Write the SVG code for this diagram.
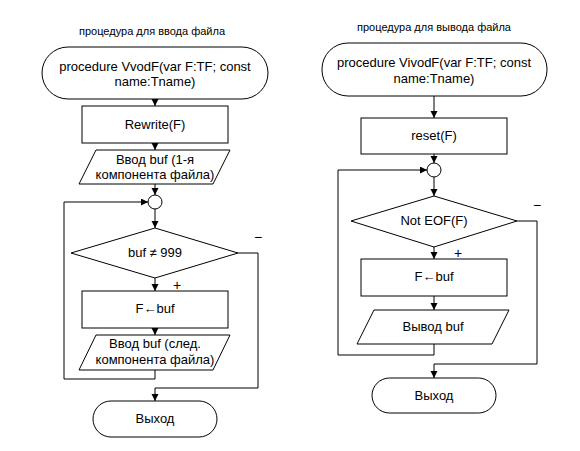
<svg xmlns="http://www.w3.org/2000/svg" width="580" height="451" viewBox="0 0 580 451">
<style>
.shape{fill:#fff;stroke:#000;stroke-width:1}
.t{font-family:"Liberation Sans",Arial,sans-serif;font-size:13px;fill:#000;text-anchor:middle}
.title{font-family:"Liberation Sans",Arial,sans-serif;font-size:11px;fill:#000;text-anchor:middle}
.c{fill:none;stroke:#000;stroke-width:1}
.sign{font-family:"Liberation Sans",Arial,sans-serif;font-size:14px;fill:#000;text-anchor:middle}
</style>
<defs>
<marker id="ah" markerUnits="userSpaceOnUse" markerWidth="8" markerHeight="8" refX="7" refY="3.5" orient="auto">
<path d="M0,0 L7,3.5 L0,7 z" fill="#000"/>
</marker>
</defs>
<rect width="580" height="451" fill="#fff"/>

<g id="connectors">
<path class="c" marker-end="url(#ah)" d="M155,99 V106"/>
<path class="c" marker-end="url(#ah)" d="M155,143 V150"/>
<path class="c" marker-end="url(#ah)" d="M155,184 V195"/>
<path class="c" marker-end="url(#ah)" d="M155,209 V228"/>
<path class="c" marker-end="url(#ah)" d="M155,278 V291"/>
<path class="c" marker-end="url(#ah)" d="M155,328 V335"/>
<path class="c" marker-end="url(#ah)" d="M155,370 V379 H64 V202 H148"/>
<path class="c" marker-end="url(#ah)" d="M238,253 H258 V388 H155 V401"/>

<path class="c" marker-end="url(#ah)" d="M434,96 V118"/>
<path class="c" marker-end="url(#ah)" d="M434,154 V163"/>
<path class="c" marker-end="url(#ah)" d="M434,177 V196"/>
<path class="c" marker-end="url(#ah)" d="M434,247 V259"/>
<path class="c" marker-end="url(#ah)" d="M434,296 V310"/>
<path class="c" marker-end="url(#ah)" d="M434,344 V355 H338 V170 H427"/>
<path class="c" marker-end="url(#ah)" d="M517,221 H537 V364 H434 V378"/>
<text class="sign" x="258" y="242">−</text>
<text class="sign" x="177" y="290">+</text>
<text class="sign" x="537" y="210">−</text>
<text class="sign" x="458" y="258">+</text>
</g>

<text class="title" x="152" y="35">процедура для ввода файла</text>
<text class="title" x="434" y="31">процедура для вывода файла</text>

<g id="l_start">
<rect class="shape" x="42" y="47" width="226" height="52" rx="26"/>
<text class="t" x="155" y="71">procedure VvodF(var F:TF; const</text>
<text class="t" x="155" y="86">name:Tname)</text>
</g>
<g id="l_rewrite">
<rect class="shape" x="82" y="106" width="146" height="37"/>
<text class="t" x="155" y="129">Rewrite(F)</text>
</g>
<g id="l_input1">
<polygon class="shape" points="96,150 230,150 213,184 79,184"/>
<text class="t" x="155" y="164">Ввод buf (1-я</text>
<text class="t" x="155" y="179">компонента файла)</text>
</g>
<g id="l_join">
<circle class="shape" cx="155" cy="202" r="7"/>
</g>
<g id="l_cond">
<polygon class="shape" points="155,228 238,253 155,278 71,253"/>
<text class="t" x="155" y="257">buf ≠ 999</text>
</g>
<g id="l_assign">
<rect class="shape" x="82" y="291" width="146" height="37"/>
<text class="t" x="155" y="313">F←buf</text>
</g>
<g id="l_input2">
<polygon class="shape" points="96,335 230,335 213,370 79,370"/>
<text class="t" x="155" y="348">Ввод buf (след.</text>
<text class="t" x="155" y="364">компонента файла)</text>
</g>
<g id="l_end">
<rect class="shape" x="93" y="401" width="124" height="36" rx="18"/>
<text class="t" x="155" y="423">Выход</text>
</g>

<g id="r_start">
<rect class="shape" x="322" y="43" width="225" height="53" rx="26"/>
<text class="t" x="434" y="67">procedure VivodF(var F:TF; const</text>
<text class="t" x="434" y="83">name:Tname)</text>
</g>
<g id="r_reset">
<rect class="shape" x="361" y="118" width="146" height="36"/>
<text class="t" x="434" y="140">reset(F)</text>
</g>
<g id="r_join">
<circle class="shape" cx="434" cy="170" r="7"/>
</g>
<g id="r_cond">
<polygon class="shape" points="434,196 517,221 434,247 351,221"/>
<text class="t" x="434" y="225">Not EOF(F)</text>
</g>
<g id="r_assign">
<rect class="shape" x="361" y="259" width="146" height="37"/>
<text class="t" x="434" y="281">F←buf</text>
</g>
<g id="r_output">
<polygon class="shape" points="374,310 509,310 492,344 357,344"/>
<text class="t" x="433" y="331">Вывод buf</text>
</g>
<g id="r_end">
<rect class="shape" x="372" y="378" width="124" height="35" rx="17.5"/>
<text class="t" x="434" y="400">Выход</text>
</g>
</svg>
